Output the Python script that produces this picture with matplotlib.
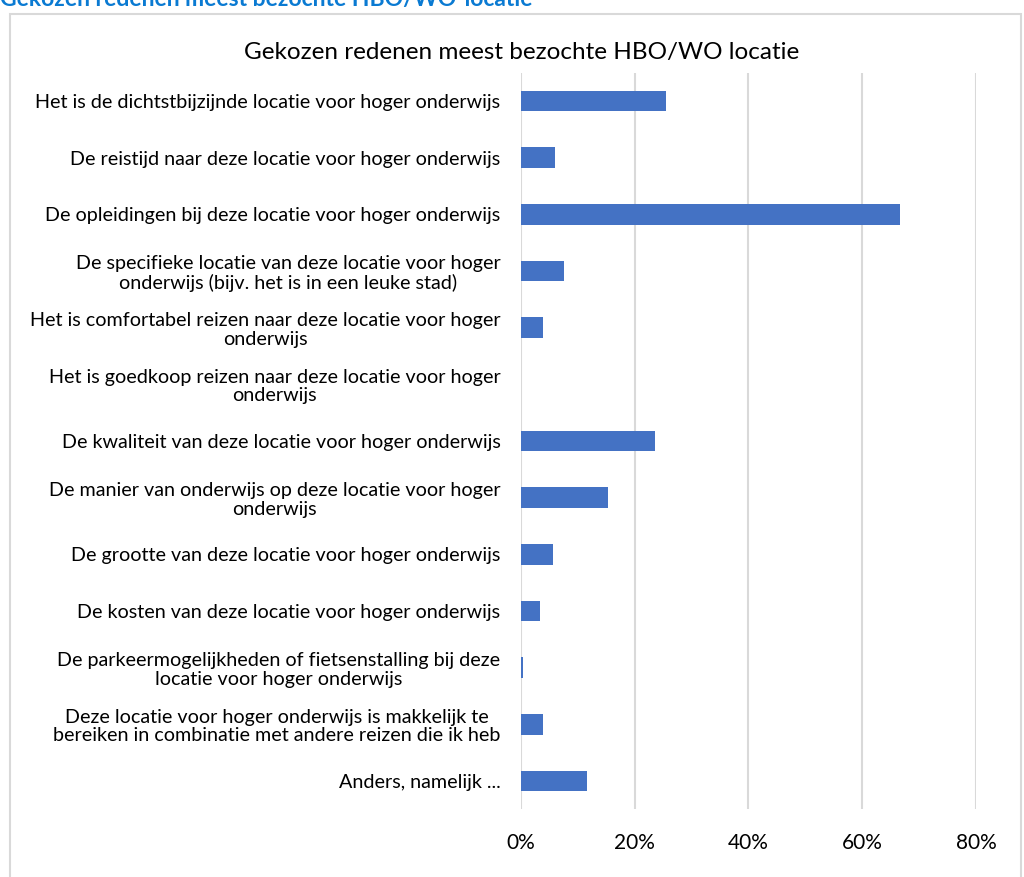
import matplotlib.pyplot as plt
from matplotlib.patches import Rectangle
from matplotlib.ticker import FuncFormatter

plt.rcParams['font.family'] = ['Lato', 'DejaVu Sans']

redenen = [
    'Het is de dichtstbijzijnde locatie voor hoger onderwijs',
    'De reistijd naar deze locatie voor hoger onderwijs',
    'De opleidingen bij deze locatie voor hoger onderwijs',
    'De specifieke locatie van deze locatie voor hoger\nonderwijs (bijv. het is in een leuke stad)',
    'Het is comfortabel reizen naar deze locatie voor hoger\nonderwijs',
    'Het is goedkoop reizen naar deze locatie voor hoger\nonderwijs',
    'De kwaliteit van deze locatie voor hoger onderwijs',
    'De manier van onderwijs op deze locatie voor hoger\nonderwijs',
    'De grootte van deze locatie voor hoger onderwijs',
    'De kosten van deze locatie voor hoger onderwijs',
    'De parkeermogelijkheden of fietsenstalling bij deze\nlocatie voor hoger onderwijs',
    'Deze locatie voor hoger onderwijs is makkelijk te\nbereiken in combinatie met andere reizen die ik heb',
    'Anders, namelijk ...',
]
percentages = [25.5, 6.0, 66.7, 7.6, 4.0, 0.0, 23.6, 15.3, 5.7, 3.4, 0.35, 3.9, 11.6]
x_ticks = [0, 20, 40, 60, 80]

fig = plt.figure(figsize=(10.24, 8.77), dpi=100)

# randje om de grafiek
fig.patches.append(Rectangle((10 / 1024, -0.01), 1011 / 1024, 1 - 14 / 877 + 0.01,
                             transform=fig.transFigure, fill=False,
                             edgecolor='#d9d9d9', linewidth=1.5))

fig.text(0.0, 1 - 6 / 877, 'Gekozen redenen meest bezochte HBO/WO-locatie',
         color='#0a7ad2', fontsize=16.5, fontweight='bold', ha='left', va='baseline')

ax = fig.add_axes([520.7 / 1024, 1 - 809.3 / 877, 455.2 / 1024, 736.6 / 877])
y = list(range(len(redenen)))
ax.barh(y, percentages, height=0.36, color='#4472C4', zorder=3)
ax.set_xlim(0, 80)
ax.set_ylim(len(redenen) - 0.5, -0.5)
ax.set_xticks(x_ticks)
ax.xaxis.set_major_formatter(FuncFormatter(lambda v, p: f'{v:.0f}%'))
ax.set_yticks(y)
ax.set_yticklabels(redenen, fontsize=14.2, multialignment='center',
                   linespacing=1.1, color='#000000')
ax.tick_params(axis='x', labelsize=15, length=0, pad=17)
ax.tick_params(axis='y', length=0, pad=14.5)
ax.grid(axis='x', color='#d9d9d9', linewidth=1.5, zorder=0)
for s in ax.spines.values():
    s.set_visible(False)

fig.text(522 / 1024, 1 - 52 / 877, 'Gekozen redenen meest bezochte HBO/WO locatie',
         fontsize=17.5, ha='center', va='center', color='#000000')

fig.savefig('out.png', dpi=100)
